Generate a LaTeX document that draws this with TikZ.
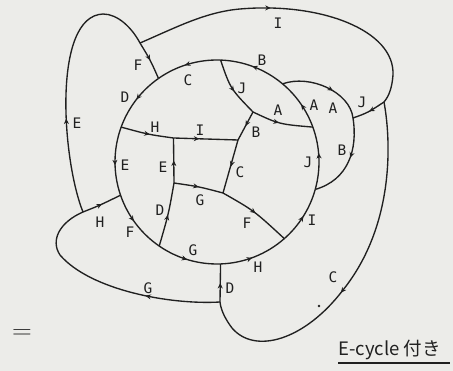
\documentclass[tikz,border=0pt]{standalone}
\usepackage{fontspec}
\newfontfamily\lblfont{DejaVu Sans Mono}
\newfontfamily\cjk{Noto Sans CJK JP}
\usetikzlibrary{arrows.meta,decorations.markings}
\definecolor{paper}{RGB}{236,236,233}
\definecolor{ink}{RGB}{32,32,32}

\tikzset{
  edge/.style={color=ink, line width=1.35pt},
  midarr/.style={postaction={decorate},
    decoration={markings, mark=at position #1 with {\arrow{Stealth[length=5.5pt,width=5pt]}}}},
  midarr/.default=0.5,
  lbl/.style={font=\lblfont\fontsize{14.5}{14.5}\selectfont, text=ink, inner sep=0pt}
}

\begin{document}
\begin{tikzpicture}[x=1pt, y=-1pt]
  \path[use as bounding box, fill=paper] (0,0) rectangle (453,371);

  % --- big circle and the vertices on it ---
  \def\R{102}
  \coordinate (O) at (217,162);
  \path (O) ++(235:\R) coordinate (v1);
  \path (O) ++(-88:\R) coordinate (v2);
  \path (O) ++(-20:\R) coordinate (v3);
  \path (O) ++(200:\R) coordinate (v5);
  \path (O) ++(48.7:\R) coordinate (v10);
  \path (O) ++(124.5:\R) coordinate (v11);
  \path (O) ++(161:\R) coordinate (v12);
  \path (O) ++(88:\R) coordinate (v13);
  \path (O) ++(15.6:\R) coordinate (v16);
  \path (O) ++(-50:\R) coordinate (v17);

  % inner and outer vertices
  \coordinate (v4)  at (253,112);
  \coordinate (v6)  at (173.5,138);
  \coordinate (v7)  at (238,140);
  \coordinate (v8)  at (223,193);
  \coordinate (v9)  at (174,183);
  \coordinate (v14) at (384,102);
  \coordinate (v15) at (353,118);
  \coordinate (v18) at (140,43);
  \coordinate (v19) at (83,212);
  \coordinate (v20) at (220,302);

  % circle arcs (counterclockwise)
  \draw[edge, midarr=0.55] (v2)  arc[start angle=-88,  end angle=-125, radius=\R];  % C
  \draw[edge, midarr=0.49] (v1)  arc[start angle=235,  end angle=200,  radius=\R];  % D
  \draw[edge, midarr=0.56] (v5)  arc[start angle=200,  end angle=161,  radius=\R];  % E
  \draw[edge, midarr=0.45] (v12) arc[start angle=161,  end angle=124.5,radius=\R];  % F
  \draw[edge, midarr=0.48] (v11) arc[start angle=124.5,end angle=88,   radius=\R];  % G
  \draw[edge, midarr=0.46] (v13) arc[start angle=88,   end angle=48.7, radius=\R];  % H
  \draw[edge, midarr=0.5]  (v10) arc[start angle=48.7, end angle=15.6, radius=\R];  % I
  \draw[edge, midarr=0.58] (v16) arc[start angle=15.6, end angle=-20,  radius=\R];  % J
  \draw[edge, midarr=0.48] (v3)  arc[start angle=-20,  end angle=-50,  radius=\R];  % A
  \draw[edge, midarr=0.52] (v17) arc[start angle=-50,  end angle=-88,  radius=\R];  % B

  % inside the circle
  \draw[edge, midarr=0.55] (v2) .. controls (230.4,88.7) .. (v4);    % J
  \draw[edge, midarr=0.45] (v4) .. controls (279,124.2) .. (v3);     % A
  \draw[edge, midarr] (v4) -- (v7);                                  % B
  \draw[edge, midarr=0.55] (v5) .. controls (148.3,134.5) .. (v6);   % H
  \draw[edge, midarr=0.4] (v6) -- (v7);                              % I
  \draw[edge, midarr] (v9) -- (v6);                                  % E
  \draw[edge, midarr] (v11) .. controls (168.6,213.8) .. (v9);       % D
  \draw[edge, midarr] (v9) .. controls (199.3,186.7) .. (v8);        % G
  \draw[edge, midarr] (v7) .. controls (231.2,165.8) .. (v8);        % C
  \draw[edge, midarr] (v8) .. controls (254.1,210.7) .. (v10);       % F

  % outside the circle
  \draw[edge, midarr=0.36] (v19) .. controls (62,160) and (52,16) .. (103,14)
    .. controls (118,14) and (132,28) .. (v18);                      % E
  \draw[edge, midarr] (v18) .. controls (150.25,59.8) .. (v1);       % F
  \draw[edge, midarr=0.43] (v18) .. controls (175,28) and (205,12) .. (240,9)
    .. controls (320,2) and (395,30) .. (393,75)
    .. controls (392,88) and (389,96) .. (v14);                      % I
  \draw[edge, midarr=0.56] (v14) .. controls (391,140) and (395,225) .. (343,290)
    .. controls (305,340) and (255,355) .. (232,328)
    .. controls (226,320) and (221,311) .. (v20);                    % C
  \draw[edge, midarr=0.33] (v20) .. controls (170,305) and (90,290) .. (60,255)
    .. controls (50,240) and (60,222) .. (v19);                      % G
  \draw[edge, midarr] (v19) .. controls (99.4,205.5) .. (v12);       % H
  \draw[edge, midarr] (v20) -- (v13);                                % D
  \draw[edge, midarr] (v14) .. controls (367.8,112.7) .. (v15);      % J
  \draw[edge, midarr=0.6] (v17) .. controls (310,74) and (350,92) .. (v15);    % A
  \draw[edge, midarr=0.45] (v15) .. controls (358,150) and (348,180) .. (v16); % B

  % labels
  \node[lbl] (lFa) at (138,65)  {F};
  \node[lbl] (lCa) at (188,80)  {C};
  \node[lbl] (lDa) at (125,97)  {D};
  \node[lbl] (lEa) at (77,123)  {E};
  \node[lbl] (lHa) at (155,127) {H};
  \node[lbl] (lIa) at (200,130) {I};
  \node[lbl] (lIb) at (278,23)  {I};
  \node[lbl] (lBa) at (262,60)  {B};
  \node[lbl] (lJa) at (242,88)  {J};
  \node[lbl] (lAa) at (278,110) {A};
  \node[lbl] (lAb) at (314,105) {A};
  \node[lbl] (lAc) at (333,108) {A};
  \node[lbl] (lJb) at (362,102) {J};
  \node[lbl] (lBb) at (256,132) {B};
  \node[lbl] (lBc) at (342,150) {B};
  \node[lbl] (lJc) at (308,162) {J};
  \node[lbl] (lCb) at (240,172) {C};
  \node[lbl] (lEb) at (125,165) {E};
  \node[lbl] (lEc) at (163,167) {E};
  \node[lbl] (lDb) at (160,210) {D};
  \node[lbl] (lHb) at (100,222) {H};
  \node[lbl] (lFb) at (130,232) {F};
  \node[lbl] (lGa) at (200,200) {G};
  \node[lbl] (lFc) at (247,223) {F};
  \node[lbl] (lGb) at (193,250) {G};
  \node[lbl] (lHc) at (258,267) {H};
  \node[lbl] (lIc) at (312,220) {I};
  \node[lbl] (lCc) at (333,277) {C};
  \node[lbl] (lDc) at (230,288) {D};
  \node[lbl] (lGc) at (148,288) {G};

  \fill[ink] (319,306) circle[radius=1.3];
  \node[font=\fontsize{30}{30}\selectfont, text=ink, xscale=1.1, inner sep=0pt] (eq) at (22,334) {$=$};
  \node[font=\cjk\fontsize{18.5}{18.5}\selectfont, text=ink, anchor=base west, inner sep=0pt]
    (cap) at (338,356) {E-cycle 付き};
  \draw[ink, line width=1.1pt] ([yshift=-7pt]cap.base west) -- ([xshift=9pt,yshift=-7pt]cap.base east);
\end{tikzpicture}
\end{document}
